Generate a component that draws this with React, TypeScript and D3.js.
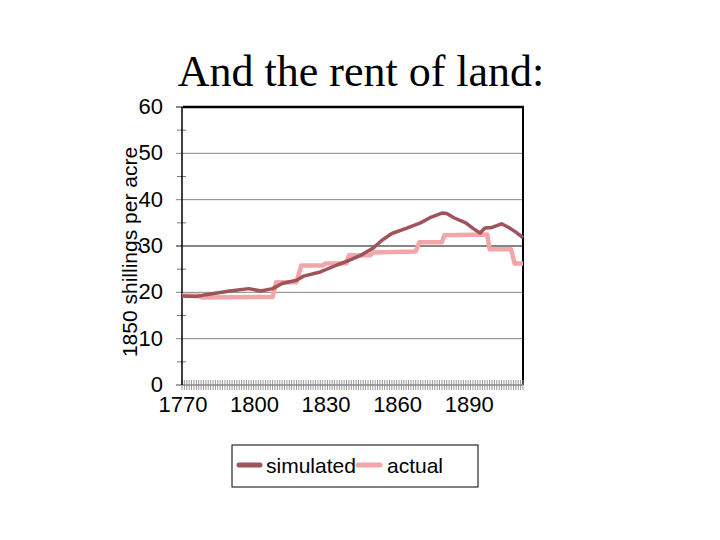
import React from "react";
import * as d3 from "d3";

// values
const simYears = [1770, 1776, 1780, 1790, 1798, 1803, 1808, 1812, 1818, 1821, 1828, 1835, 1840, 1845, 1850, 1854, 1858, 1864, 1870, 1874, 1879, 1881, 1884, 1889, 1892, 1895, 1897, 1900, 1904, 1907, 1910, 1913];
const simValues = [19.2, 19.1, 19.5, 20.3, 20.8, 20.3, 20.8, 21.9, 22.6, 23.5, 24.4, 25.9, 26.9, 28.0, 29.5, 31.3, 32.7, 33.8, 35.0, 36.1, 37.1, 37.0, 36.1, 35.0, 33.8, 32.8, 33.9, 34.0, 34.8, 34.0, 33.0, 31.8];

const actYears = [1770, 1777, 1778, 1808, 1809.5, 1818, 1820, 1829, 1830, 1839, 1840, 1849, 1850, 1868, 1869.5, 1879, 1880, 1898, 1899, 1908, 1909.5, 1913];
const actValues = [19.3, 19.3, 18.9, 19.0, 22.2, 22.2, 25.8, 25.8, 26.2, 26.3, 28.0, 28.0, 28.6, 28.8, 30.8, 30.8, 32.3, 32.5, 29.3, 29.3, 26.2, 26.2];

const yTicks = [0, 10, 20, 30, 40, 50, 60];
const yMinor = [5, 15, 25, 35, 45, 55];
const xLabels = [1770, 1800, 1830, 1860, 1890];
const firstYear = 1770;
const lastYear = 1913;

const seriesNames = ["simulated", "actual"];
const seriesColors = ["#a0535a", "#f2a6a8"];

const sans = "'Liberation Sans', Arial, sans-serif";

export default function App() {
  const x = d3.scaleLinear().domain([firstYear, lastYear]).range([182, 523]);
  const y = d3.scaleLinear().domain([0, 60]).range([385, 107]);

  const line = d3
    .line<[number, number]>()
    .x((d) => x(d[0]))
    .y((d) => y(d[1]));

  const simPath = line(simYears.map((yr, i) => [yr, simValues[i]]));
  const actPath = line(actYears.map((yr, i) => [yr, actValues[i]]));
  const yearTicks = d3.range(firstYear, lastYear + 1);

  return (
    <svg
      width={720}
      height={540}
      style={{ position: "absolute", left: 0, top: 0, background: "#fff" }}
    >
      <text
        x={361}
        y={86}
        textAnchor="middle"
        fontFamily="'Liberation Serif', 'Times New Roman', serif"
        fontSize={44}
      >
        And the rent of land:
      </text>

      {/* gridlines */}
      {yTicks.slice(1, -1).map((t) => (
        <line
          key={t}
          x1={176}
          x2={x(lastYear)}
          y1={y(t)}
          y2={y(t)}
          stroke="#868686"
          strokeWidth={t === 30 ? 2 : 1}
        />
      ))}
      <line x1={176} x2={183} y1={y(60)} y2={y(60)} stroke="#888" strokeWidth={2} />
      <line x1={183} x2={x(lastYear) + 1} y1={y(60)} y2={y(60)} stroke="#000" strokeWidth={2.5} />
      <line x1={x(lastYear)} x2={x(lastYear)} y1={y(60)} y2={y(0)} stroke="#000" strokeWidth={2} />

      {/* minor y ticks */}
      {yMinor.map((t) => (
        <line key={t} x1={177} x2={186} y1={y(t)} y2={y(t)} stroke="#777" strokeWidth={1} />
      ))}

      {/* x axis */}
      {yearTicks.map((yr) => (
        <line key={yr} x1={x(yr)} x2={x(yr)} y1={380} y2={390} stroke="#9a9a9a" strokeWidth={1} />
      ))}
      <line x1={176} x2={x(lastYear)} y1={y(0)} y2={y(0)} stroke="#888" strokeWidth={1.5} />
      <line x1={182} x2={182} y1={y(60)} y2={y(0)} stroke="#000" strokeWidth={1.5} />

      {/* y labels */}
      {yTicks.map((t) => (
        <text key={t} x={163} y={y(t) + 7} textAnchor="end" fontFamily={sans} fontSize={22}>
          {t}
        </text>
      ))}
      {/* x labels */}
      {xLabels.map((yr) => (
        <text key={yr} x={x(yr) + 1} y={412} textAnchor="middle" fontFamily={sans} fontSize={22}>
          {yr}
        </text>
      ))}

      <text
        transform="translate(137,252) rotate(-90)"
        textAnchor="middle"
        fontFamily={sans}
        fontSize={21}
      >
        1850 shillings per acre
      </text>

      {/* series */}
      <path d={actPath ?? ""} fill="none" stroke={seriesColors[1]} strokeWidth={4.5} strokeLinejoin="round" />
      <path d={simPath ?? ""} fill="none" stroke={seriesColors[0]} strokeWidth={3.5} strokeLinejoin="round" />

      {/* legend */}
      <rect x={232} y={445} width={246} height={42} fill="#fff" stroke="#000" strokeWidth={1} />
      <line x1={239} x2={260} y1={465} y2={465} stroke={seriesColors[0]} strokeWidth={5} strokeLinecap="round" />
      <text x={266} y={473} fontFamily={sans} fontSize={21}>
        {seriesNames[0]}
      </text>
      <line x1={358} x2={380} y1={465} y2={465} stroke={seriesColors[1]} strokeWidth={5} strokeLinecap="round" />
      <text x={387} y={473} fontFamily={sans} fontSize={21}>
        {seriesNames[1]}
      </text>
    </svg>
  );
}
